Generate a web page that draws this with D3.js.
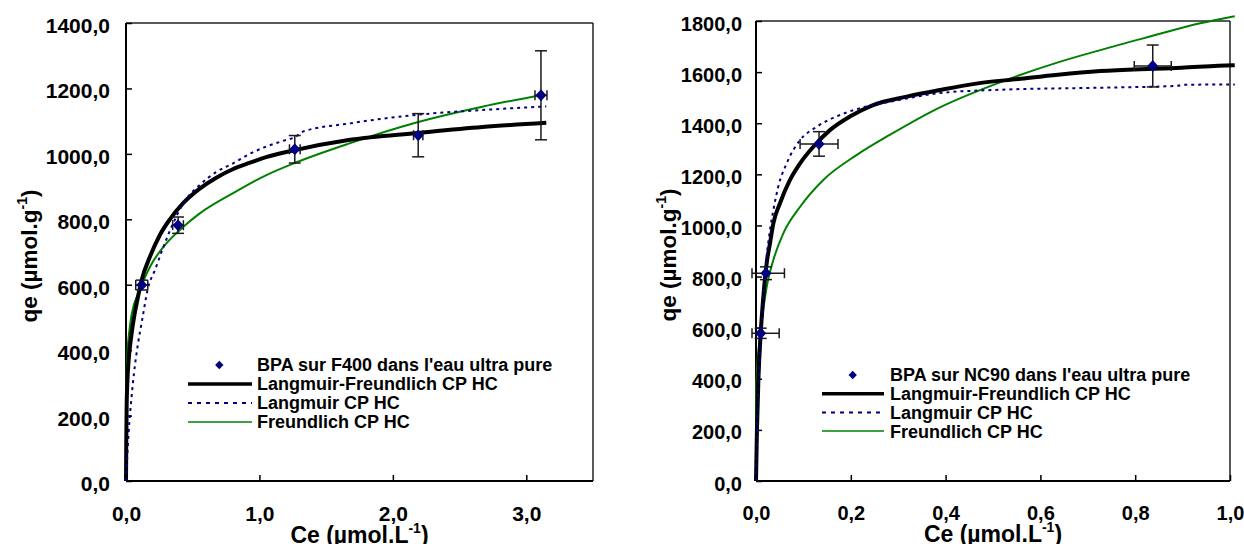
<!DOCTYPE html>
<html><head><meta charset="utf-8">
<script src="https://cdn.jsdelivr.net/npm/d3@7"></script>
<style>
body{margin:0;background:#fff}
svg{display:block;background:#fff}
text{font-family:"Liberation Sans",Arial,sans-serif;font-weight:bold;fill:#000}
</style>
</head><body>
<svg id="chart" width="1244" height="544"></svg>
<script>
// ---------- Left panel (F400) ----------
const leftCe     = [0.118, 0.39, 1.265, 2.19, 3.11];
const leftQe     = [599, 782, 1014, 1057, 1179];
const leftCeErr  = [0.045, 0.04, 0.04, 0.035, 0.045];
const leftQeErr  = [15, 25, 42, 66, 136];

const leftLFx = [0, 0.002, 0.005, 0.01, 0.02, 0.04, 0.06, 0.085, 0.117, 0.18, 0.254, 0.329, 0.43, 0.55, 0.68, 0.8, 0.93, 1.05, 1.25, 1.68, 2.19, 2.67, 3.15];
const leftLFy = [0, 120, 230, 300, 370, 445, 500, 553, 614, 686, 752, 800, 850, 893, 928, 953, 973, 990, 1010, 1043, 1064, 1082, 1095];

const leftLx = [0, 0.01, 0.02, 0.04, 0.06, 0.09, 0.12, 0.165, 0.217, 0.28, 0.329, 0.43, 0.553, 0.678, 0.803, 0.927, 1.05, 1.18, 1.27, 1.326, 1.675, 2.17, 2.67, 3.15];
const leftLy = [0, 80, 150, 250, 330, 420, 490, 590, 645, 715, 765, 849, 905, 945, 971, 1000, 1022, 1040, 1052, 1068, 1093, 1119, 1134, 1145];

const leftFx = [0, 0.0003, 0.002, 0.008, 0.03, 0.06, 0.08, 0.118, 0.18, 0.304, 0.43, 0.553, 0.803, 1.052, 1.264, 1.675, 2.17, 2.67, 3.12];
const leftFy = [0, 195, 280, 370, 475, 540, 562, 600, 655, 727, 777, 818, 880, 935, 972, 1032, 1095, 1144, 1180];

const leftXTicks = [0, 1, 2, 3];
const leftYTicks = [0, 200, 400, 600, 800, 1000, 1200, 1400];

// ---------- Right panel (NC90) ----------
const rightCe    = [0.0099, 0.021, 0.133, 0.837];
const rightQe    = [578, 813, 1319, 1624];
const rightCeErr = [0.039, 0.039, 0.04, 0.039];
const rightQeErr = [20, 25, 48, 82];

const rightLFx = [0, 0.002, 0.005, 0.0099, 0.0155, 0.0225, 0.0295, 0.0366, 0.0506, 0.0717, 0.093, 0.121, 0.156, 0.198, 0.247, 0.318, 0.388, 0.468, 0.553, 0.637, 0.726, 0.838, 0.898, 0.975, 1.01];
const rightLFy = [0, 200, 395, 578, 721, 852, 930, 1008, 1087, 1178, 1243, 1308, 1373, 1426, 1471, 1504, 1530, 1556, 1573, 1590, 1604, 1613, 1617, 1625, 1627];

const rightLx = [0, 0.003, 0.008, 0.015, 0.0225, 0.0295, 0.0366, 0.047, 0.0647, 0.093, 0.128, 0.177, 0.226, 0.283, 0.388, 0.5, 0.726, 0.887, 0.9, 1.01];
const rightLy = [0, 250, 480, 700, 878, 982, 1060, 1152, 1243, 1334, 1386, 1432, 1462, 1484, 1518, 1530, 1539, 1546, 1550, 1552];

const rightFx = [0, 0.0002, 0.001, 0.0084, 0.0225, 0.0366, 0.0576, 0.093, 0.142, 0.212, 0.283, 0.388, 0.519, 0.637, 0.726, 0.831, 0.937, 1.01];
const rightFy = [0, 260, 395, 560, 760, 865, 969, 1073, 1178, 1275, 1355, 1462, 1563, 1638, 1686, 1739, 1791, 1819];

const rightXTicks = [0, 0.2, 0.4, 0.6, 0.8, 1.0];
const rightYTicks = [0, 200, 400, 600, 800, 1000, 1200, 1400, 1600, 1800];

const seriesNames = ["Langmuir-Freundlich CP HC", "Langmuir CP HC", "Freundlich CP HC"];
const leftDataName = "BPA sur F400 dans l'eau ultra pure";
const rightDataName = "BPA sur NC90 dans l'eau ultra pure";

// ---------- drawing ----------
const svg = d3.select("#chart");
const fmt = d => d3.format(".1f")(d).replace(".", ",");
const zip = (xs, ys) => xs.map((x, i) => [x, ys[i]]);

function panel(cfg) {
  const x = d3.scaleLinear().domain(cfg.xDomain).range(cfg.xRange);
  const y = d3.scaleLinear().domain(cfg.yDomain).range(cfg.yRange);
  const g = svg.append("g");

  const [x0, x1] = cfg.xRange, [y0, y1] = cfg.yRange;
  g.append("line").attr("x1", x0).attr("x2", x1).attr("y1", y1).attr("y2", y1).attr("stroke", "#222").attr("stroke-width", 1.5);
  g.append("line").attr("x1", x1).attr("x2", x1).attr("y1", y1).attr("y2", y0).attr("stroke", "#222").attr("stroke-width", 1.5);

  const ya = g.append("g").attr("transform", `translate(${x0},0)`)
    .call(d3.axisLeft(y).tickValues(cfg.yTicks).tickFormat(fmt).tickSizeInner(-6).tickSizeOuter(0).tickPadding(cfg.yPad));
  ya.select(".domain").remove();
  ya.selectAll("line").attr("stroke", "#000").attr("stroke-width", 1.5);
  ya.selectAll("text").attr("font-size", cfg.tickFont).attr("dy", "0.45em").style("font-family", "Liberation Sans, Arial, sans-serif").style("font-weight", "bold");

  const xa = g.append("g").attr("transform", `translate(0,${y0})`)
    .call(d3.axisBottom(x).tickValues(cfg.xTicks).tickFormat(fmt).tickSizeInner(-6).tickSizeOuter(0).tickPadding(25));
  xa.select(".domain").remove();
  xa.selectAll("line").attr("stroke", "#000").attr("stroke-width", 1.5);
  xa.selectAll("text").attr("font-size", cfg.tickFont).style("font-family", "Liberation Sans, Arial, sans-serif").style("font-weight", "bold");

  g.append("line").attr("x1", x0).attr("x2", x0).attr("y1", y0).attr("y2", y1).attr("stroke", "#000").attr("stroke-width", 2);
  g.append("line").attr("x1", x0).attr("x2", x1).attr("y1", y0).attr("y2", y0).attr("stroke", "#000").attr("stroke-width", 2);

  const line = d3.line().x(d => x(d[0])).y(d => y(d[1])).curve(d3.curveMonotoneX);
  g.append("path").datum(zip(cfg.Fx, cfg.Fy)).attr("d", line)
    .attr("fill", "none").attr("stroke", "#008000").attr("stroke-width", 2);
  g.append("path").datum(zip(cfg.LFx, cfg.LFy)).attr("d", line)
    .attr("fill", "none").attr("stroke", "#000").attr("stroke-width", 4);
  g.append("path").datum(zip(cfg.Lx, cfg.Ly)).attr("d", line)
    .attr("fill", "none").attr("stroke", "#000080").attr("stroke-width", 2).attr("stroke-dasharray", "3,4");

  const pts = cfg.ce.map((c, i) => ({c, q: cfg.qe[i], ce: cfg.ceErr[i], qe: cfg.qeErr[i]}));
  const eb = g.append("g").attr("stroke", "#1a1a1a").attr("stroke-width", 1.5).attr("fill", "none");
  pts.forEach(p => {
    const px = x(p.c), py = y(p.q);
    const ylo = y(p.q - p.qe), yhi = y(p.q + p.qe);
    const xlo = Math.max(x(p.c - p.ce), x(0) - 4), xhi = x(p.c + p.ce);
    eb.append("line").attr("x1", px).attr("x2", px).attr("y1", ylo).attr("y2", yhi);
    eb.append("line").attr("x1", px - 6).attr("x2", px + 6).attr("y1", ylo).attr("y2", ylo);
    eb.append("line").attr("x1", px - 6).attr("x2", px + 6).attr("y1", yhi).attr("y2", yhi);
    eb.append("line").attr("x1", xlo).attr("x2", xhi).attr("y1", py).attr("y2", py);
    eb.append("line").attr("x1", xlo).attr("x2", xlo).attr("y1", py - 5).attr("y2", py + 5);
    eb.append("line").attr("x1", xhi).attr("x2", xhi).attr("y1", py - 5).attr("y2", py + 5);
  });
  g.selectAll(".pt").data(pts).enter().append("path").attr("class", "pt")
    .attr("d", p => { const px = x(p.c), py = y(p.q); return `M${px},${py-6}L${px+5.5},${py}L${px},${py+6}L${px-5.5},${py}Z`; })
    .attr("fill", "#000080");

  const xt = g.append("text").attr("x", (x0 + x1) / 2).attr("y", cfg.xTitleY).attr("text-anchor", "middle").attr("font-size", 23);
  xt.append("tspan").text("Ce (µmol.L");
  xt.append("tspan").attr("font-size", 14).attr("dy", -10).text("-1");
  xt.append("tspan").attr("dy", 10).text(")");

  const yt = g.append("text").attr("transform", `translate(${cfg.yTitleX},${cfg.yTitleY}) rotate(-90)`)
    .attr("text-anchor", "middle").attr("font-size", 22.5);
  yt.append("tspan").text("qe (µmol.g");
  yt.append("tspan").attr("font-size", 14).attr("dy", -10).text("-1");
  yt.append("tspan").attr("dy", 10).text(")");

  const L = cfg.legend;
  const lg = g.append("g");
  lg.append("path").attr("d", `M${L.dx},${L.y0-4.2}L${L.dx+4.2},${L.y0}L${L.dx},${L.y0+4.2}L${L.dx-4.2},${L.y0}Z`).attr("fill", "#000080");
  const styles = [
    {stroke: "#000", w: 3.5, dash: null},
    {stroke: "#000080", w: 2, dash: "4,5"},
    {stroke: "#008000", w: 1.5, dash: null}
  ];
  const labels = [cfg.dataName].concat(seriesNames);
  labels.forEach((t, i) => {
    const yy = L.y0 + i * L.step;
    lg.append("text").attr("x", L.tx).attr("y", yy).attr("dy", "0.36em").attr("font-size", 18).text(t);
    if (i > 0) {
      const s = styles[i - 1];
      const ln = lg.append("line").attr("x1", L.lx0).attr("x2", L.lx1).attr("y1", yy).attr("y2", yy)
        .attr("stroke", s.stroke).attr("stroke-width", s.w);
      if (s.dash) ln.attr("stroke-dasharray", s.dash);
    }
  });
}

panel({
  xDomain: [0, 3.5], xRange: [126, 593],
  yDomain: [0, 1400], yRange: [481, 23],
  xTicks: leftXTicks, yTicks: leftYTicks, yPad: 16, tickFont: 21,
  ce: leftCe, qe: leftQe, ceErr: leftCeErr, qeErr: leftQeErr,
  LFx: leftLFx, LFy: leftLFy, Lx: leftLx, Ly: leftLy, Fx: leftFx, Fy: leftFy,
  xTitleY: 543, yTitleX: 37, yTitleY: 256,
  dataName: leftDataName,
  legend: {dx: 219.3, y0: 365, step: 19, tx: 257, lx0: 188, lx1: 252}
});

panel({
  xDomain: [0, 1.0], xRange: [756, 1230],
  yDomain: [0, 1800], yRange: [481, 21],
  xTicks: rightXTicks, yTicks: rightYTicks, yPad: 14, tickFont: 20,
  ce: rightCe, qe: rightQe, ceErr: rightCeErr, qeErr: rightQeErr,
  LFx: rightLFx, LFy: rightLFy, Lx: rightLx, Ly: rightLy, Fx: rightFx, Fy: rightFy,
  xTitleY: 542, yTitleX: 676, yTitleY: 255,
  dataName: rightDataName,
  legend: {dx: 852.7, y0: 375, step: 18.7, tx: 890, lx0: 822, lx1: 884}
});
</script>
</body></html>
